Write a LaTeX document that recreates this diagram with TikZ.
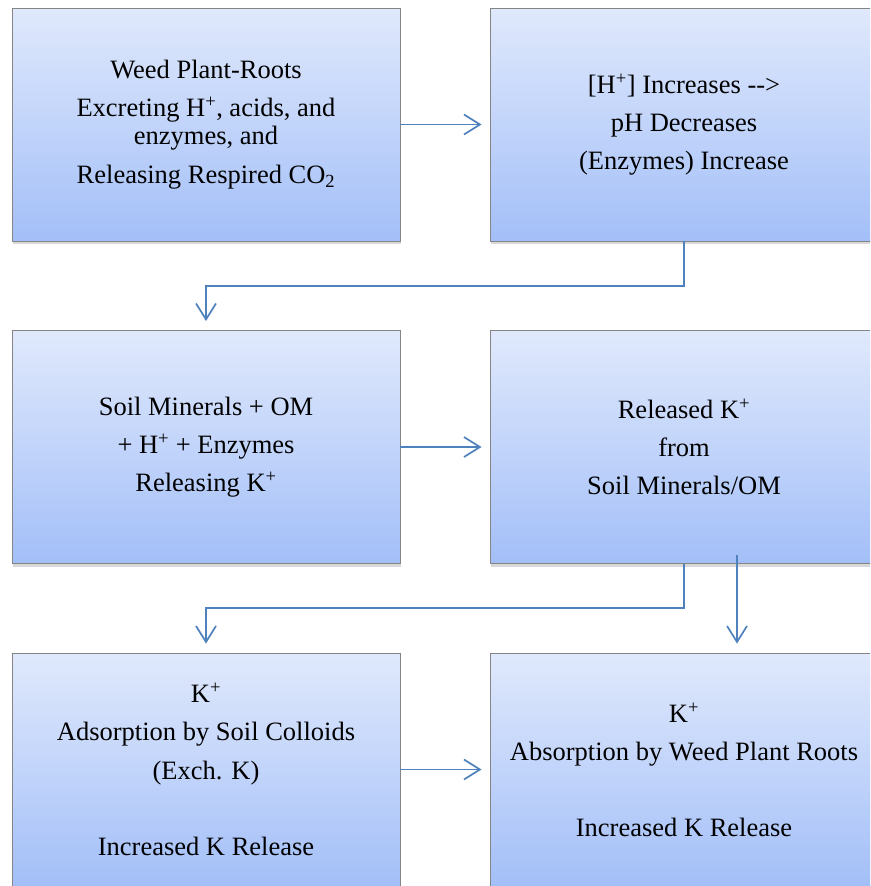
\documentclass[tikz,border=0pt]{standalone}
\usepackage{fontspec}
\setmainfont{Liberation Serif}
\usetikzlibrary{arrows.meta,shadows,calc}
\definecolor{boxtop}{HTML}{E0E9FC}
\definecolor{boxbot}{HTML}{A3BFF8}
\definecolor{boxline}{HTML}{858585}
\definecolor{conncol}{HTML}{4F81BD}
\begin{document}
\begin{tikzpicture}[x=1pt,y=-1pt,
  stepbox/.style={rectangle, draw=boxline, line width=0.9pt,
    top color=boxtop, bottom color=boxbot,
    minimum width=388pt, minimum height=233pt, inner sep=0pt,
    align=center, font=\fontsize{26.5}{28}\selectfont,
    drop shadow={opacity=0.3, shadow xshift=1pt, shadow yshift=-3pt}},
  conn/.style={draw=conncol, line width=1.7pt,
    -{Straight Barb[length=16pt,width=20pt,line width=1.7pt]}}]
\useasboundingbox (0,0) rectangle (870,886);
\fill[white] (0,0) rectangle (870,886);
\clip (0,0) rectangle (870,886);

\node[stepbox] (b1) at (206,124.5) {Weed Plant-Roots\\[10pt]Excreting H\textsuperscript{+}, acids, and\\enzymes, and\\[11pt]Releasing Respired CO\textsubscript{2}};
\node[stepbox] (b2) at (684,124.5) {[H\textsuperscript{+}] Increases {-}{-}>\\[10pt]pH Decreases\\[10pt](Enzymes) Increase};
\node[stepbox] (b3) at (206,447) {Soil Minerals + OM\\[10pt]+ H\textsuperscript{+} + Enzymes\\[10pt]Releasing K\textsuperscript{+}};
\node[stepbox] (b4) at (684,447) {Released K\textsuperscript{+}\\[10pt]from\\[10pt]Soil Minerals/OM};
\node[stepbox] (b5) at (206,769.5) {K\textsuperscript{+}\\[10pt]Adsorption by Soil Colloids\\[11pt](Exch. K)\\[10pt]\mbox{}\\[10pt]Increased K Release};
\node[stepbox] (b6) at (684,769.5) {K\textsuperscript{+}\\[10pt]Absorption by Weed Plant Roots\\[10pt]\mbox{}\\[10pt]Increased K Release};

\coordinate (e1) at (206,286);
\coordinate (e2) at (206,608);
\coordinate (s6) at (737,555);

\draw[conn, shorten >=8pt] (b1.east) -- (b2.west);
\draw[conn, shorten >=9pt] (b2.south) |- (e1) -- (b3.north);
\draw[conn, shorten >=8pt] (b3.east) -- (b4.west);
\draw[conn, shorten >=9pt] (b4.south) |- (e2) -- (b5.north);
\draw[conn, shorten >=9pt] (s6) -- (s6 |- b6.north);
\draw[conn, shorten >=8pt] (b5.east) -- (b6.west);
\end{tikzpicture}
\end{document}
